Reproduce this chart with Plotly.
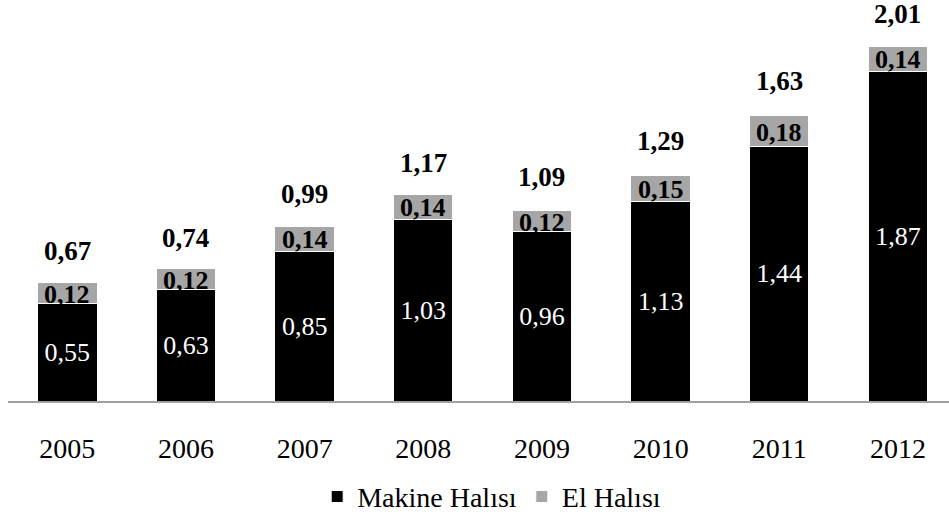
import plotly.graph_objects as go

years = [2005, 2006, 2007, 2008, 2009, 2010, 2011, 2012]
makine = [0.55, 0.63, 0.85, 1.03, 0.96, 1.13, 1.44, 1.87]
el = [0.12, 0.12, 0.14, 0.14, 0.12, 0.15, 0.18, 0.14]
totals = [0.67, 0.74, 0.99, 1.17, 1.09, 1.29, 1.63, 2.01]

FONT = "Liberation Serif"

def fmt(v):
    return f"{v:.2f}".replace(".", ",")

fig = go.Figure()
fig.add_trace(go.Bar(
    x=years, y=makine, name="Makine Halısı", width=0.5,
    marker=dict(color="#000000", line=dict(color="#ffffff", width=1)),
    text=[fmt(v) for v in makine], textposition="inside", insidetextanchor="middle",
    textfont=dict(family=FONT, size=26, color="#ffffff"),
    hoverinfo="skip",
))
fig.add_trace(go.Bar(
    x=years, y=el, name="El Halısı", width=0.5,
    marker=dict(color="#a6a6a6", line=dict(color="#ffffff", width=1)),
    hoverinfo="skip",
))

for yr, m, e, t in zip(years, makine, el, totals):
    fig.add_annotation(x=yr, y=m + e / 2, text=f"<b>{fmt(e)}</b>", showarrow=False,
                       font=dict(family=FONT, size=26, color="#000000"), yanchor="middle", yshift=-1)
    fig.add_annotation(x=yr, y=t, text=f"<b>{fmt(t)}</b>", showarrow=False,
                       font=dict(family=FONT, size=27, color="#000000"), yanchor="middle", yshift=32)

fig.update_layout(
    width=949, height=522,
    barmode="stack",
    plot_bgcolor="#ffffff", paper_bgcolor="#ffffff",
    margin=dict(l=8, r=0, t=0, b=116),
    font=dict(family=FONT, size=28, color="#000000"),
    showlegend=True,
    legend=dict(orientation="h", x=0.514, xanchor="center", y=-0.239, yanchor="middle",
                font=dict(family=FONT, size=28), traceorder="normal"),
    xaxis=dict(type="linear", range=[2004.5, 2012.43], tickvals=years,
               ticktext=[str(y) for y in years], showline=True, linecolor="#a0a0a0",
               linewidth=1.5, ticks="", showgrid=False, zeroline=False,
               ticklabelstandoff=22, tickfont=dict(family=FONT, size=28)),
    yaxis=dict(range=[0, 406 / 178.6], visible=False, showgrid=False),
)

fig.write_html("out.html", config={"displayModeBar": False},
               post_script="document.body.style.margin='0px';")
